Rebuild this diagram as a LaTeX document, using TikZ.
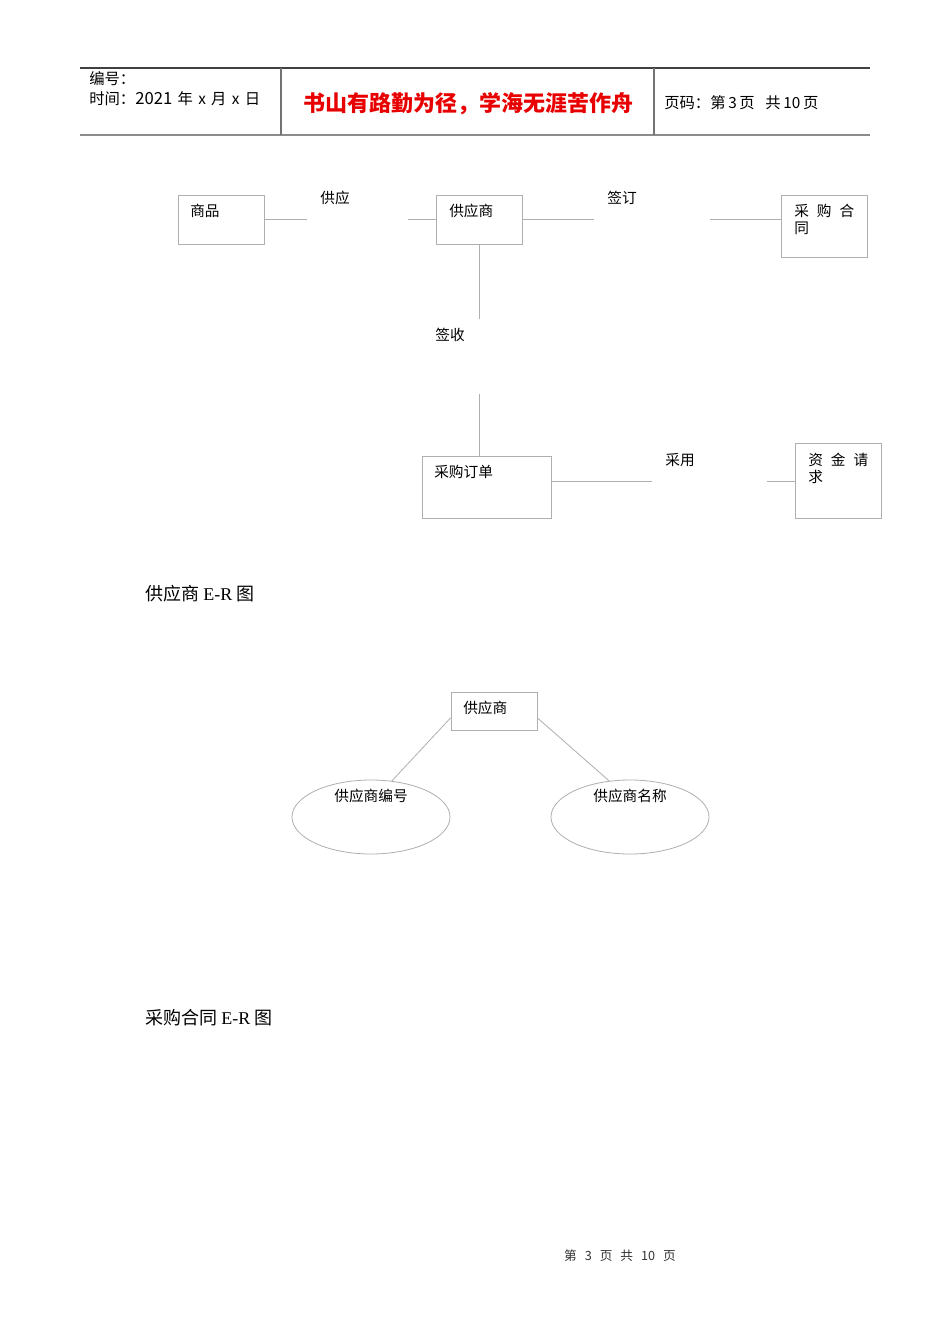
\documentclass[tikz,border=0pt]{standalone}
\usepackage{fontspec}
\setmainfont{Noto Sans CJK SC}
\newfontfamily\latser{Liberation Serif}
\usetikzlibrary{positioning,shapes.geometric,fit}
\definecolor{erGray}{RGB}{175,175,175}
\definecolor{hdRed}{RGB}{232,0,0}

\begin{document}
\begin{tikzpicture}[x=0.75pt,y=-0.75pt,
    ent/.style={draw=erGray,line width=0.6pt,inner sep=0pt},
    lbl/.style={anchor=west,inner sep=0pt,align=left,font=\fontsize{11}{13}\selectfont},
    rel/.style={inner sep=0pt,font=\fontsize{11}{13}\selectfont},
    conn/.style={draw=erGray,line width=0.6pt},
    attr/.style={ellipse,draw=erGray,line width=0.6pt,inner sep=0pt,
                 minimum width=118.5pt,minimum height=55.5pt},
    hd/.style={anchor=west,inner sep=0pt,font=\fontsize{11.5}{13}\selectfont},
    captxt/.style={anchor=west,inner sep=0pt,font=\fontsize{13.5}{15}\selectfont}]
  \fill[white] (0,0) rectangle (950,1344);
  \useasboundingbox (0,0) rectangle (950,1344);

  % header
  \draw[line width=0.8pt,black!75] (80,68) -- (870,68);
  \draw[line width=1.5pt,black!45] (80,135) -- (870,135);
  \draw[line width=0.8pt,black!55] (281,68) -- (281,135) (654,68) -- (654,135);
  \node[hd] (hdNo) at (89,79) {编号：};
  \node[hd] (hdDate) at (89,99) {时间：{\fontsize{12.5}{13}\selectfont 2021}\hspace{4pt}年\hspace{4pt}x\hspace{4pt}月\hspace{4pt}x\hspace{4pt}日};
  \node[inner sep=0pt,text=hdRed,font=\fontsize{16.5}{18}\selectfont\bfseries] (hdMotto) at (468,104)
    {书山有路勤为径，学海无涯苦作舟};
  \node[hd] (hdPage) at (664,103) {页码：第\hspace{2pt}3\hspace{2pt}页\hspace{8pt}共\hspace{2pt}10\hspace{2pt}页};

  % supplier E-R
  \node[ent,fit={(178,195) (264,244)}] (goods) {};
  \node[lbl] (goodsT) at (190,211) {商品};
  \node[ent,fit={(436,195) (522,244)}] (supplier) {};
  \node[lbl] (supplierT) at (449,211) {供应商};
  \node[ent,fit={(781,195) (867,257)}] (contract) {};
  \node[lbl] (contractT) at (794,219.5) {采\hspace{6pt}购\hspace{6pt}合\\同};
  \node[ent,fit={(422,456) (551,518)}] (order) {};
  \node[lbl] (orderT) at (434,472) {采购订单};
  \node[ent,fit={(795,443) (881,518)}] (fund) {};
  \node[lbl] (fundT) at (808,468.5) {资\hspace{6pt}金\hspace{6pt}请\\求};

  \node[rel] (supply) at (335,198) {供应};
  \node[rel] (signC) at (622,198) {签订};
  \node[rel] (signR) at (450,335) {签收};
  \node[rel] (adopt) at (680,460) {采用};

  \coordinate (supplyL) at (307,219);
  \coordinate (supplyR) at (408,219);
  \coordinate (signCL) at (594,219);
  \coordinate (signCR) at (710,219);
  \coordinate (signRT) at (479,319);
  \coordinate (signRB) at (479,394);
  \coordinate (adoptL) at (652,481);
  \coordinate (adoptR) at (767,481);

  \draw[conn] (goods.east |- supplyL) -- (supplyL);
  \draw[conn] (supplyR) -- (supplier.west |- supplyR);
  \draw[conn] (supplier.east |- signCL) -- (signCL);
  \draw[conn] (signCR) -- (contract.west |- signCR);
  \draw[conn] (supplier.south) -- (signRT);
  \draw[conn] (signRB) -- (signRB |- order.north);
  \draw[conn] (order.east |- adoptL) -- (adoptL);
  \draw[conn] (adoptR) -- (fund.west |- adoptR);

  \node[captxt] (capSupplier) at (145,594) {供应商 {\latser E-R} 图};

  % supplier attributes
  \node[ent,fit={(451,692) (537,730)}] (sup2) {};
  \node[lbl] (sup2T) at (463,708) {供应商};
  \node[attr] (supNo) at (371,817) {};
  \node[rel] (supNoT) at (371,796) {供应商编号};
  \node[attr] (supName) at (630,817) {};
  \node[rel] (supNameT) at (630,796) {供应商名称};
  \draw[conn] (sup2.189) -- (supNo.60);
  \draw[conn] (sup2.-9) -- (supName.120);

  \node[captxt] (capContract) at (145,1018) {采购合同 {\latser E-R} 图};

  % footer
  \node[inner sep=0pt,text=black!80,font=\fontsize{9.5}{11}\selectfont] (ftPage) at (620,1256)
    {第\hspace{6pt}3\hspace{6pt}页\hspace{6pt}共\hspace{6pt}10\hspace{6pt}页};
\end{tikzpicture}
\end{document}
